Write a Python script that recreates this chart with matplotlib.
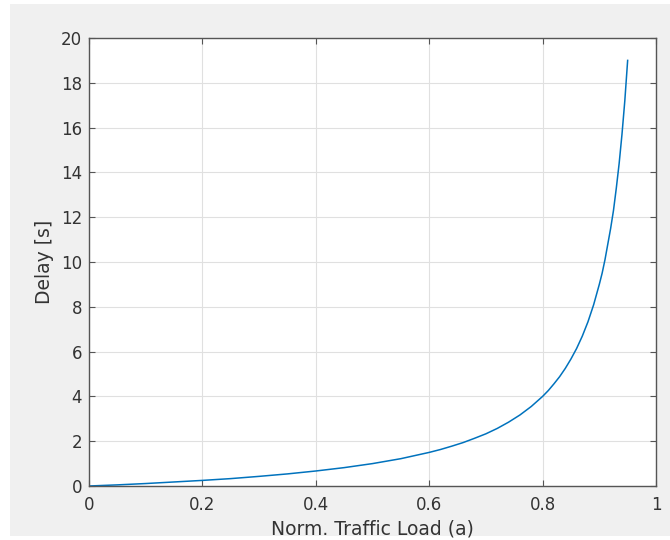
import matplotlib
matplotlib.use('Agg')
import matplotlib.pyplot as plt
from matplotlib.patches import Rectangle

# values
load = [0.0, 0.05, 0.1, 0.15, 0.2, 0.25, 0.3, 0.35, 0.4, 0.45, 0.5, 0.55,
        0.6, 0.62, 0.64, 0.66, 0.68, 0.7, 0.72, 0.74, 0.76, 0.78, 0.8, 0.81,
        0.82, 0.83, 0.84, 0.85, 0.86, 0.87, 0.88, 0.89, 0.9, 0.905, 0.91,
        0.915, 0.92, 0.925, 0.93, 0.935, 0.94, 0.945, 0.95]
delay = [0.0, 0.05, 0.11, 0.18, 0.25, 0.33, 0.43, 0.54, 0.67, 0.82, 1.0, 1.22,
         1.5, 1.63, 1.78, 1.94, 2.13, 2.33, 2.57, 2.85, 3.17, 3.55, 4.0, 4.26,
         4.56, 4.88, 5.25, 5.67, 6.14, 6.69, 7.33, 8.09, 9.0, 9.5, 10.1,
         10.8, 11.5, 12.3, 13.3, 14.4, 15.7, 17.2, 19.0]
xticks = [0, 0.2, 0.4, 0.6, 0.8, 1]
xtick_labels = ['0', '0.2', '0.4', '0.6', '0.8', '1']
yticks = list(range(0, 21, 2))

txt = '#333333'
edge = '#555555'

fig = plt.figure(figsize=(6.7, 5.4), dpi=100, facecolor='white')
fig.patches.append(Rectangle((10 / 670, 4 / 540), 660 / 670, 532 / 540,
                             transform=fig.transFigure, facecolor='#f0f0f0',
                             edgecolor='none', zorder=-10))

ax = fig.add_axes([89 / 670, 1 - 486 / 540, 567 / 670, 448 / 540])
ax.plot(load, delay, color='#0072BD', lw=1.1)

ax.set_xlim(0, 1)
ax.set_ylim(0, 20)
ax.set_xticks(xticks)
ax.set_xticklabels(xtick_labels)
ax.set_yticks(yticks)
ax.grid(True, color='#e0e0e0', lw=0.8)
ax.set_axisbelow(True)
ax.tick_params(direction='in', length=4, width=0.8, color=edge,
               labelcolor=txt, labelsize=12, top=True, right=True)
ax.tick_params(axis='x', pad=7)
ax.tick_params(axis='y', pad=5)
for s in ax.spines.values():
    s.set_color(edge)
    s.set_linewidth(1.0)

ax.set_xlabel('Norm. Traffic Load (a)', fontsize=13.5, color=txt, labelpad=4)
ax.set_ylabel('Delay [s]', fontsize=13.5, color=txt, labelpad=5)

fig.savefig('out.png', dpi=100, facecolor=fig.get_facecolor())
